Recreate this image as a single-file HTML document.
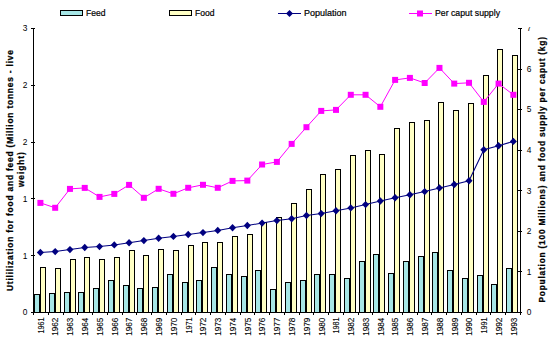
<!DOCTYPE html>
<html><head><meta charset="utf-8"><style>
html,body{margin:0;padding:0;background:#fff;width:552px;height:339px;overflow:hidden;position:relative}
</style></head><body>
<svg width="552" height="339" viewBox="0 0 552 339" style="position:absolute;left:0;top:0">
<defs><clipPath id="c7" clipPathUnits="userSpaceOnUse"><rect x="520" y="27" width="20" height="10"/></clipPath></defs>
<g shape-rendering="crispEdges" stroke="#000" stroke-width="1">
<rect x="34.5" y="294.5" width="5" height="18" fill="#a6e6e6"/>
<rect x="40.5" y="267.5" width="5" height="45" fill="#ffffc4"/>
<rect x="49.5" y="293.5" width="5" height="19" fill="#a6e6e6"/>
<rect x="55.5" y="268.5" width="5" height="44" fill="#ffffc4"/>
<rect x="64.5" y="292.5" width="5" height="20" fill="#a6e6e6"/>
<rect x="70.5" y="259.5" width="5" height="53" fill="#ffffc4"/>
<rect x="78.5" y="292.5" width="5" height="20" fill="#a6e6e6"/>
<rect x="84.5" y="257.5" width="5" height="55" fill="#ffffc4"/>
<rect x="93.5" y="288.5" width="5" height="24" fill="#a6e6e6"/>
<rect x="99.5" y="259.5" width="5" height="53" fill="#ffffc4"/>
<rect x="108.5" y="280.5" width="5" height="32" fill="#a6e6e6"/>
<rect x="114.5" y="257.5" width="5" height="55" fill="#ffffc4"/>
<rect x="123.5" y="285.5" width="5" height="27" fill="#a6e6e6"/>
<rect x="129.5" y="250.5" width="5" height="62" fill="#ffffc4"/>
<rect x="137.5" y="288.5" width="5" height="24" fill="#a6e6e6"/>
<rect x="143.5" y="255.5" width="5" height="57" fill="#ffffc4"/>
<rect x="152.5" y="287.5" width="5" height="25" fill="#a6e6e6"/>
<rect x="158.5" y="249.5" width="5" height="63" fill="#ffffc4"/>
<rect x="167.5" y="274.5" width="5" height="38" fill="#a6e6e6"/>
<rect x="173.5" y="250.5" width="5" height="62" fill="#ffffc4"/>
<rect x="182.5" y="282.5" width="5" height="30" fill="#a6e6e6"/>
<rect x="188.5" y="245.5" width="5" height="67" fill="#ffffc4"/>
<rect x="196.5" y="280.5" width="5" height="32" fill="#a6e6e6"/>
<rect x="202.5" y="242.5" width="5" height="70" fill="#ffffc4"/>
<rect x="211.5" y="267.5" width="5" height="45" fill="#a6e6e6"/>
<rect x="217.5" y="242.5" width="5" height="70" fill="#ffffc4"/>
<rect x="226.5" y="274.5" width="5" height="38" fill="#a6e6e6"/>
<rect x="232.5" y="236.5" width="5" height="76" fill="#ffffc4"/>
<rect x="241.5" y="276.5" width="5" height="36" fill="#a6e6e6"/>
<rect x="247.5" y="234.5" width="5" height="78" fill="#ffffc4"/>
<rect x="255.5" y="270.5" width="5" height="42" fill="#a6e6e6"/>
<rect x="261.5" y="222.5" width="5" height="90" fill="#ffffc4"/>
<rect x="270.5" y="289.5" width="5" height="23" fill="#a6e6e6"/>
<rect x="276.5" y="217.5" width="5" height="95" fill="#ffffc4"/>
<rect x="285.5" y="282.5" width="5" height="30" fill="#a6e6e6"/>
<rect x="291.5" y="203.5" width="5" height="109" fill="#ffffc4"/>
<rect x="300.5" y="280.5" width="5" height="32" fill="#a6e6e6"/>
<rect x="306.5" y="189.5" width="5" height="123" fill="#ffffc4"/>
<rect x="314.5" y="274.5" width="5" height="38" fill="#a6e6e6"/>
<rect x="320.5" y="174.5" width="5" height="138" fill="#ffffc4"/>
<rect x="329.5" y="274.5" width="5" height="38" fill="#a6e6e6"/>
<rect x="335.5" y="169.5" width="5" height="143" fill="#ffffc4"/>
<rect x="344.5" y="278.5" width="5" height="34" fill="#a6e6e6"/>
<rect x="350.5" y="155.5" width="5" height="157" fill="#ffffc4"/>
<rect x="359.5" y="261.5" width="5" height="51" fill="#a6e6e6"/>
<rect x="365.5" y="150.5" width="5" height="162" fill="#ffffc4"/>
<rect x="373.5" y="254.5" width="5" height="58" fill="#a6e6e6"/>
<rect x="379.5" y="154.5" width="5" height="158" fill="#ffffc4"/>
<rect x="388.5" y="273.5" width="5" height="39" fill="#a6e6e6"/>
<rect x="394.5" y="128.5" width="5" height="184" fill="#ffffc4"/>
<rect x="403.5" y="261.5" width="5" height="51" fill="#a6e6e6"/>
<rect x="409.5" y="122.5" width="5" height="190" fill="#ffffc4"/>
<rect x="418.5" y="256.5" width="5" height="56" fill="#a6e6e6"/>
<rect x="424.5" y="120.5" width="5" height="192" fill="#ffffc4"/>
<rect x="432.5" y="252.5" width="5" height="60" fill="#a6e6e6"/>
<rect x="438.5" y="102.5" width="5" height="210" fill="#ffffc4"/>
<rect x="447.5" y="270.5" width="5" height="42" fill="#a6e6e6"/>
<rect x="453.5" y="110.5" width="5" height="202" fill="#ffffc4"/>
<rect x="462.5" y="278.5" width="5" height="34" fill="#a6e6e6"/>
<rect x="468.5" y="103.5" width="5" height="209" fill="#ffffc4"/>
<rect x="477.5" y="275.5" width="5" height="37" fill="#a6e6e6"/>
<rect x="483.5" y="75.5" width="5" height="237" fill="#ffffc4"/>
<rect x="491.5" y="284.5" width="5" height="28" fill="#a6e6e6"/>
<rect x="497.5" y="49.5" width="5" height="263" fill="#ffffc4"/>
<rect x="506.5" y="268.5" width="5" height="44" fill="#a6e6e6"/>
<rect x="512.5" y="55.5" width="5" height="257" fill="#ffffc4"/>
</g>
<g shape-rendering="crispEdges" stroke="#000" stroke-width="1" fill="none">
<path d="M33.5 28V313M520.5 28V313M33 312.5H521"/>
<path d="M31 28.5H35"/>
<path d="M31 85.5H35"/>
<path d="M31 142.5H35"/>
<path d="M31 198.5H35"/>
<path d="M31 255.5H35"/>
<path d="M31 312.5H35"/>
<path d="M518 28.5H522"/>
<path d="M518 69.5H522"/>
<path d="M518 109.5H522"/>
<path d="M518 150.5H522"/>
<path d="M518 190.5H522"/>
<path d="M518 231.5H522"/>
<path d="M518 271.5H522"/>
<path d="M518 312.5H522"/>
<path d="M33.5 312V315"/>
<path d="M48.5 312V315"/>
<path d="M63.5 312V315"/>
<path d="M77.5 312V315"/>
<path d="M92.5 312V315"/>
<path d="M107.5 312V315"/>
<path d="M122.5 312V315"/>
<path d="M136.5 312V315"/>
<path d="M151.5 312V315"/>
<path d="M166.5 312V315"/>
<path d="M181.5 312V315"/>
<path d="M195.5 312V315"/>
<path d="M210.5 312V315"/>
<path d="M225.5 312V315"/>
<path d="M240.5 312V315"/>
<path d="M254.5 312V315"/>
<path d="M269.5 312V315"/>
<path d="M284.5 312V315"/>
<path d="M299.5 312V315"/>
<path d="M313.5 312V315"/>
<path d="M328.5 312V315"/>
<path d="M343.5 312V315"/>
<path d="M358.5 312V315"/>
<path d="M372.5 312V315"/>
<path d="M387.5 312V315"/>
<path d="M402.5 312V315"/>
<path d="M417.5 312V315"/>
<path d="M431.5 312V315"/>
<path d="M446.5 312V315"/>
<path d="M461.5 312V315"/>
<path d="M476.5 312V315"/>
<path d="M490.5 312V315"/>
<path d="M505.5 312V315"/>
<path d="M520.5 312V315"/>
</g>
<polyline points="40.40,202.90 55.18,207.80 69.96,188.90 84.74,187.90 99.52,196.90 114.30,193.90 129.08,184.90 143.86,197.80 158.64,188.80 173.42,193.80 188.20,187.80 202.98,184.80 217.76,187.80 232.54,180.90 247.32,180.60 262.10,164.50 276.88,161.90 291.66,143.90 306.44,127.20 321.22,110.90 336.00,109.90 350.78,94.80 365.56,94.80 380.34,106.80 395.12,79.90 409.90,77.90 424.68,83.00 439.46,67.90 454.24,83.60 469.02,82.80 483.80,101.90 498.58,83.60 513.36,94.80" fill="none" stroke="#ff00ff" stroke-width="1"/>
<polyline points="40.40,252.50 55.18,251.60 69.96,249.60 84.74,247.50 99.52,246.60 114.30,244.90 129.08,242.70 143.86,240.60 158.64,238.30 173.42,236.40 188.20,234.50 202.98,232.60 217.76,230.40 232.54,227.70 247.32,225.50 262.10,223.10 276.88,220.60 291.66,218.80 306.44,215.50 321.22,213.60 336.00,210.70 350.78,207.90 365.56,204.60 380.34,201.00 395.12,197.70 409.90,194.70 424.68,191.60 439.46,187.90 454.24,184.50 469.02,180.80 483.80,149.80 498.58,145.80 513.36,141.40" fill="none" stroke="#000080" stroke-width="1.05"/>
<path d="M40.40 248.80L43.95 252.50L40.40 256.20L36.85 252.50Z" fill="#000080"/>
<path d="M55.18 247.90L58.73 251.60L55.18 255.30L51.63 251.60Z" fill="#000080"/>
<path d="M69.96 245.90L73.51 249.60L69.96 253.30L66.41 249.60Z" fill="#000080"/>
<path d="M84.74 243.80L88.29 247.50L84.74 251.20L81.19 247.50Z" fill="#000080"/>
<path d="M99.52 242.90L103.07 246.60L99.52 250.30L95.97 246.60Z" fill="#000080"/>
<path d="M114.30 241.20L117.85 244.90L114.30 248.60L110.75 244.90Z" fill="#000080"/>
<path d="M129.08 239.00L132.63 242.70L129.08 246.40L125.53 242.70Z" fill="#000080"/>
<path d="M143.86 236.90L147.41 240.60L143.86 244.30L140.31 240.60Z" fill="#000080"/>
<path d="M158.64 234.60L162.19 238.30L158.64 242.00L155.09 238.30Z" fill="#000080"/>
<path d="M173.42 232.70L176.97 236.40L173.42 240.10L169.87 236.40Z" fill="#000080"/>
<path d="M188.20 230.80L191.75 234.50L188.20 238.20L184.65 234.50Z" fill="#000080"/>
<path d="M202.98 228.90L206.53 232.60L202.98 236.30L199.43 232.60Z" fill="#000080"/>
<path d="M217.76 226.70L221.31 230.40L217.76 234.10L214.21 230.40Z" fill="#000080"/>
<path d="M232.54 224.00L236.09 227.70L232.54 231.40L228.99 227.70Z" fill="#000080"/>
<path d="M247.32 221.80L250.87 225.50L247.32 229.20L243.77 225.50Z" fill="#000080"/>
<path d="M262.10 219.40L265.65 223.10L262.10 226.80L258.55 223.10Z" fill="#000080"/>
<path d="M276.88 216.90L280.43 220.60L276.88 224.30L273.33 220.60Z" fill="#000080"/>
<path d="M291.66 215.10L295.21 218.80L291.66 222.50L288.11 218.80Z" fill="#000080"/>
<path d="M306.44 211.80L309.99 215.50L306.44 219.20L302.89 215.50Z" fill="#000080"/>
<path d="M321.22 209.90L324.77 213.60L321.22 217.30L317.67 213.60Z" fill="#000080"/>
<path d="M336.00 207.00L339.55 210.70L336.00 214.40L332.45 210.70Z" fill="#000080"/>
<path d="M350.78 204.20L354.33 207.90L350.78 211.60L347.23 207.90Z" fill="#000080"/>
<path d="M365.56 200.90L369.11 204.60L365.56 208.30L362.01 204.60Z" fill="#000080"/>
<path d="M380.34 197.30L383.89 201.00L380.34 204.70L376.79 201.00Z" fill="#000080"/>
<path d="M395.12 194.00L398.67 197.70L395.12 201.40L391.57 197.70Z" fill="#000080"/>
<path d="M409.90 191.00L413.45 194.70L409.90 198.40L406.35 194.70Z" fill="#000080"/>
<path d="M424.68 187.90L428.23 191.60L424.68 195.30L421.13 191.60Z" fill="#000080"/>
<path d="M439.46 184.20L443.01 187.90L439.46 191.60L435.91 187.90Z" fill="#000080"/>
<path d="M454.24 180.80L457.79 184.50L454.24 188.20L450.69 184.50Z" fill="#000080"/>
<path d="M469.02 177.10L472.57 180.80L469.02 184.50L465.47 180.80Z" fill="#000080"/>
<path d="M483.80 146.10L487.35 149.80L483.80 153.50L480.25 149.80Z" fill="#000080"/>
<path d="M498.58 142.10L502.13 145.80L498.58 149.50L495.03 145.80Z" fill="#000080"/>
<path d="M513.36 137.70L516.91 141.40L513.36 145.10L509.81 141.40Z" fill="#000080"/>
<rect x="37.40" y="199.90" width="6" height="6" fill="#ff00ff"/>
<rect x="52.18" y="204.80" width="6" height="6" fill="#ff00ff"/>
<rect x="66.96" y="185.90" width="6" height="6" fill="#ff00ff"/>
<rect x="81.74" y="184.90" width="6" height="6" fill="#ff00ff"/>
<rect x="96.52" y="193.90" width="6" height="6" fill="#ff00ff"/>
<rect x="111.30" y="190.90" width="6" height="6" fill="#ff00ff"/>
<rect x="126.08" y="181.90" width="6" height="6" fill="#ff00ff"/>
<rect x="140.86" y="194.80" width="6" height="6" fill="#ff00ff"/>
<rect x="155.64" y="185.80" width="6" height="6" fill="#ff00ff"/>
<rect x="170.42" y="190.80" width="6" height="6" fill="#ff00ff"/>
<rect x="185.20" y="184.80" width="6" height="6" fill="#ff00ff"/>
<rect x="199.98" y="181.80" width="6" height="6" fill="#ff00ff"/>
<rect x="214.76" y="184.80" width="6" height="6" fill="#ff00ff"/>
<rect x="229.54" y="177.90" width="6" height="6" fill="#ff00ff"/>
<rect x="244.32" y="177.60" width="6" height="6" fill="#ff00ff"/>
<rect x="259.10" y="161.50" width="6" height="6" fill="#ff00ff"/>
<rect x="273.88" y="158.90" width="6" height="6" fill="#ff00ff"/>
<rect x="288.66" y="140.90" width="6" height="6" fill="#ff00ff"/>
<rect x="303.44" y="124.20" width="6" height="6" fill="#ff00ff"/>
<rect x="318.22" y="107.90" width="6" height="6" fill="#ff00ff"/>
<rect x="333.00" y="106.90" width="6" height="6" fill="#ff00ff"/>
<rect x="347.78" y="91.80" width="6" height="6" fill="#ff00ff"/>
<rect x="362.56" y="91.80" width="6" height="6" fill="#ff00ff"/>
<rect x="377.34" y="103.80" width="6" height="6" fill="#ff00ff"/>
<rect x="392.12" y="76.90" width="6" height="6" fill="#ff00ff"/>
<rect x="406.90" y="74.90" width="6" height="6" fill="#ff00ff"/>
<rect x="421.68" y="80.00" width="6" height="6" fill="#ff00ff"/>
<rect x="436.46" y="64.90" width="6" height="6" fill="#ff00ff"/>
<rect x="451.24" y="80.60" width="6" height="6" fill="#ff00ff"/>
<rect x="466.02" y="79.80" width="6" height="6" fill="#ff00ff"/>
<rect x="480.80" y="98.90" width="6" height="6" fill="#ff00ff"/>
<rect x="495.58" y="80.60" width="6" height="6" fill="#ff00ff"/>
<rect x="510.36" y="91.80" width="6" height="6" fill="#ff00ff"/>
<rect x="60.5" y="10.5" width="22" height="5" fill="#a6e6e6" stroke="#000" shape-rendering="crispEdges"/>
<rect x="169.5" y="10.5" width="22" height="5" fill="#ffffc4" stroke="#000" shape-rendering="crispEdges"/>
<path d="M278 13.5H301" stroke="#000080" stroke-width="1.05"/>
<path d="M289.5 9.9L293 13.5L289.5 17.1L286 13.5Z" fill="#000080"/>
<path d="M409 13.5H432" stroke="#ff00ff" stroke-width="1"/>
<rect x="417" y="10.5" width="6" height="6" fill="#ff00ff"/>
<g font-family="Liberation Sans, sans-serif" font-size="9" fill="#000">
<text x="86" y="16" textLength="19.5" lengthAdjust="spacingAndGlyphs" stroke="#000" stroke-width="0.2">Feed</text>
<text x="195" y="16" textLength="19.5" lengthAdjust="spacingAndGlyphs" stroke="#000" stroke-width="0.2">Food</text>
<text x="304" y="16" textLength="42.5" lengthAdjust="spacingAndGlyphs" stroke="#000" stroke-width="0.2">Population</text>
<text x="435" y="16" textLength="65" lengthAdjust="spacingAndGlyphs" stroke="#000" stroke-width="0.2">Per caput supply</text>
<text x="27.5" y="31.3" text-anchor="end" font-size="8.4">3</text>
<text x="27.5" y="88.1" text-anchor="end" font-size="8.4">2</text>
<text x="27.5" y="144.9" text-anchor="end" font-size="8.4">2</text>
<text x="27.5" y="201.7" text-anchor="end" font-size="8.4">1</text>
<text x="27.5" y="258.5" text-anchor="end" font-size="8.4">1</text>
<text x="27.5" y="315.3" text-anchor="end" font-size="8.4">0</text>
<text x="526.8" y="31.3" font-size="8.4" clip-path="url(#c7)">7</text>
<text x="526.8" y="71.9" font-size="8.4">6</text>
<text x="526.8" y="112.4" font-size="8.4">5</text>
<text x="526.8" y="153.0" font-size="8.4">4</text>
<text x="526.8" y="193.6" font-size="8.4">3</text>
<text x="526.8" y="234.2" font-size="8.4">2</text>
<text x="526.8" y="274.7" font-size="8.4">1</text>
<text x="526.8" y="315.3" font-size="8.4">0</text>
<text transform="translate(43.70,317.6) rotate(-90)" text-anchor="end" font-size="9.4" stroke="#000" stroke-width="0.1" textLength="16.0" lengthAdjust="spacingAndGlyphs">1961</text>
<text transform="translate(58.48,317.6) rotate(-90)" text-anchor="end" font-size="9.4" stroke="#000" stroke-width="0.1" textLength="18.2" lengthAdjust="spacingAndGlyphs">1962</text>
<text transform="translate(73.26,317.6) rotate(-90)" text-anchor="end" font-size="9.4" stroke="#000" stroke-width="0.1" textLength="18.2" lengthAdjust="spacingAndGlyphs">1963</text>
<text transform="translate(88.04,317.6) rotate(-90)" text-anchor="end" font-size="9.4" stroke="#000" stroke-width="0.1" textLength="18.2" lengthAdjust="spacingAndGlyphs">1964</text>
<text transform="translate(102.82,317.6) rotate(-90)" text-anchor="end" font-size="9.4" stroke="#000" stroke-width="0.1" textLength="18.2" lengthAdjust="spacingAndGlyphs">1965</text>
<text transform="translate(117.60,317.6) rotate(-90)" text-anchor="end" font-size="9.4" stroke="#000" stroke-width="0.1" textLength="18.2" lengthAdjust="spacingAndGlyphs">1966</text>
<text transform="translate(132.38,317.6) rotate(-90)" text-anchor="end" font-size="9.4" stroke="#000" stroke-width="0.1" textLength="18.2" lengthAdjust="spacingAndGlyphs">1967</text>
<text transform="translate(147.16,317.6) rotate(-90)" text-anchor="end" font-size="9.4" stroke="#000" stroke-width="0.1" textLength="18.2" lengthAdjust="spacingAndGlyphs">1968</text>
<text transform="translate(161.94,317.6) rotate(-90)" text-anchor="end" font-size="9.4" stroke="#000" stroke-width="0.1" textLength="18.2" lengthAdjust="spacingAndGlyphs">1969</text>
<text transform="translate(176.72,317.6) rotate(-90)" text-anchor="end" font-size="9.4" stroke="#000" stroke-width="0.1" textLength="18.2" lengthAdjust="spacingAndGlyphs">1970</text>
<text transform="translate(191.50,317.6) rotate(-90)" text-anchor="end" font-size="9.4" stroke="#000" stroke-width="0.1" textLength="16.0" lengthAdjust="spacingAndGlyphs">1971</text>
<text transform="translate(206.28,317.6) rotate(-90)" text-anchor="end" font-size="9.4" stroke="#000" stroke-width="0.1" textLength="18.2" lengthAdjust="spacingAndGlyphs">1972</text>
<text transform="translate(221.06,317.6) rotate(-90)" text-anchor="end" font-size="9.4" stroke="#000" stroke-width="0.1" textLength="18.2" lengthAdjust="spacingAndGlyphs">1973</text>
<text transform="translate(235.84,317.6) rotate(-90)" text-anchor="end" font-size="9.4" stroke="#000" stroke-width="0.1" textLength="18.2" lengthAdjust="spacingAndGlyphs">1974</text>
<text transform="translate(250.62,317.6) rotate(-90)" text-anchor="end" font-size="9.4" stroke="#000" stroke-width="0.1" textLength="18.2" lengthAdjust="spacingAndGlyphs">1975</text>
<text transform="translate(265.40,317.6) rotate(-90)" text-anchor="end" font-size="9.4" stroke="#000" stroke-width="0.1" textLength="18.2" lengthAdjust="spacingAndGlyphs">1976</text>
<text transform="translate(280.18,317.6) rotate(-90)" text-anchor="end" font-size="9.4" stroke="#000" stroke-width="0.1" textLength="18.2" lengthAdjust="spacingAndGlyphs">1977</text>
<text transform="translate(294.96,317.6) rotate(-90)" text-anchor="end" font-size="9.4" stroke="#000" stroke-width="0.1" textLength="18.2" lengthAdjust="spacingAndGlyphs">1978</text>
<text transform="translate(309.74,317.6) rotate(-90)" text-anchor="end" font-size="9.4" stroke="#000" stroke-width="0.1" textLength="18.2" lengthAdjust="spacingAndGlyphs">1979</text>
<text transform="translate(324.52,317.6) rotate(-90)" text-anchor="end" font-size="9.4" stroke="#000" stroke-width="0.1" textLength="18.2" lengthAdjust="spacingAndGlyphs">1980</text>
<text transform="translate(339.30,317.6) rotate(-90)" text-anchor="end" font-size="9.4" stroke="#000" stroke-width="0.1" textLength="16.0" lengthAdjust="spacingAndGlyphs">1981</text>
<text transform="translate(354.08,317.6) rotate(-90)" text-anchor="end" font-size="9.4" stroke="#000" stroke-width="0.1" textLength="18.2" lengthAdjust="spacingAndGlyphs">1982</text>
<text transform="translate(368.86,317.6) rotate(-90)" text-anchor="end" font-size="9.4" stroke="#000" stroke-width="0.1" textLength="18.2" lengthAdjust="spacingAndGlyphs">1983</text>
<text transform="translate(383.64,317.6) rotate(-90)" text-anchor="end" font-size="9.4" stroke="#000" stroke-width="0.1" textLength="18.2" lengthAdjust="spacingAndGlyphs">1984</text>
<text transform="translate(398.42,317.6) rotate(-90)" text-anchor="end" font-size="9.4" stroke="#000" stroke-width="0.1" textLength="18.2" lengthAdjust="spacingAndGlyphs">1985</text>
<text transform="translate(413.20,317.6) rotate(-90)" text-anchor="end" font-size="9.4" stroke="#000" stroke-width="0.1" textLength="18.2" lengthAdjust="spacingAndGlyphs">1986</text>
<text transform="translate(427.98,317.6) rotate(-90)" text-anchor="end" font-size="9.4" stroke="#000" stroke-width="0.1" textLength="18.2" lengthAdjust="spacingAndGlyphs">1987</text>
<text transform="translate(442.76,317.6) rotate(-90)" text-anchor="end" font-size="9.4" stroke="#000" stroke-width="0.1" textLength="18.2" lengthAdjust="spacingAndGlyphs">1988</text>
<text transform="translate(457.54,317.6) rotate(-90)" text-anchor="end" font-size="9.4" stroke="#000" stroke-width="0.1" textLength="18.2" lengthAdjust="spacingAndGlyphs">1989</text>
<text transform="translate(472.32,317.6) rotate(-90)" text-anchor="end" font-size="9.4" stroke="#000" stroke-width="0.1" textLength="18.2" lengthAdjust="spacingAndGlyphs">1990</text>
<text transform="translate(487.10,317.6) rotate(-90)" text-anchor="end" font-size="9.4" stroke="#000" stroke-width="0.1" textLength="16.0" lengthAdjust="spacingAndGlyphs">1991</text>
<text transform="translate(501.88,317.6) rotate(-90)" text-anchor="end" font-size="9.4" stroke="#000" stroke-width="0.1" textLength="18.2" lengthAdjust="spacingAndGlyphs">1992</text>
<text transform="translate(516.66,317.6) rotate(-90)" text-anchor="end" font-size="9.4" stroke="#000" stroke-width="0.1" textLength="18.2" lengthAdjust="spacingAndGlyphs">1993</text>
</g>
<g font-family="Liberation Sans, sans-serif" font-size="8.4" font-weight="bold" fill="#000" stroke="#000" stroke-width="0.25" text-anchor="middle">
<text transform="translate(13,170.5) rotate(-90)" textLength="241" lengthAdjust="spacing">Utililization for food and feed (Million tonnes - live</text>
<text transform="translate(23.5,169.6) rotate(-90)" textLength="35" lengthAdjust="spacing">weight)</text>
<text transform="translate(545,169.75) rotate(-90)" textLength="265.5" lengthAdjust="spacing">Population (100 Millions) and food supply per caput (kg)</text>
</g>
</svg>
</body></html>
